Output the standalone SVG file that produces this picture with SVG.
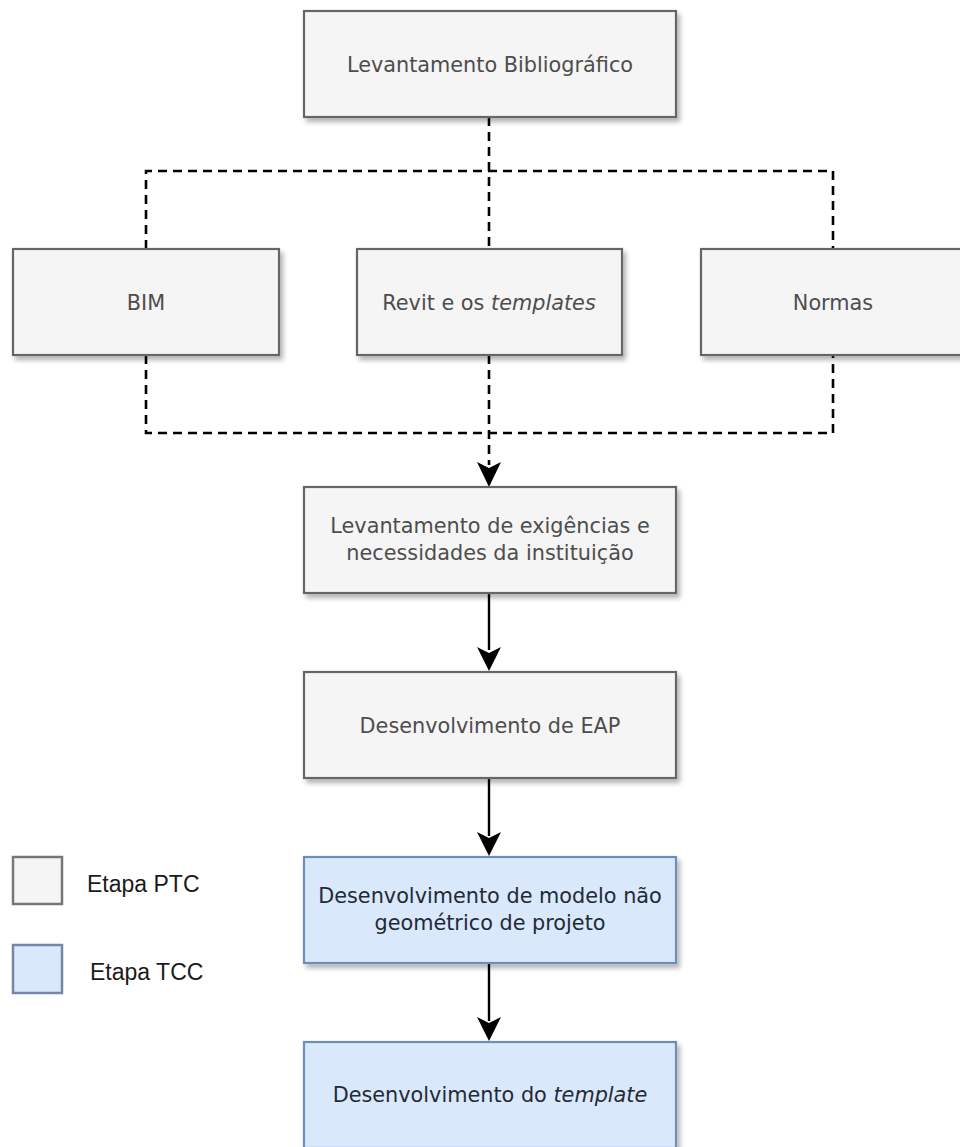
<svg xmlns="http://www.w3.org/2000/svg" width="960" height="1147" viewBox="0 0 960 1147">
<style>
.box{stroke-width:2.2}
.gray{fill:#f5f5f5;stroke:#666666}
.blue{fill:#dae8fc;stroke:#6c8ebf}
.t{font-family:"DejaVu Sans",Verdana,sans-serif;font-size:20.8px;text-anchor:middle}
.tg{fill:#4d4d4d}
.tb{fill:#222a35}
.dash{fill:none;stroke:#000;stroke-width:2.6;stroke-dasharray:9 6}
.solid{fill:none;stroke:#000;stroke-width:2.4}
.head{fill:#000}
.lg{font-family:"Liberation Sans",Arial,sans-serif;font-size:23px;fill:#1a1a1a}
</style>
<defs>
<filter id="sh" x="-10%" y="-10%" width="130%" height="140%">
<feGaussianBlur in="SourceAlpha" stdDeviation="2.5"/>
<feOffset dx="3" dy="4" result="o"/>
<feComponentTransfer><feFuncA type="linear" slope="0.3"/></feComponentTransfer>
<feMerge><feMergeNode/><feMergeNode in="SourceGraphic"/></feMerge>
</filter>
</defs>
<rect width="960" height="1147" fill="#ffffff"/>

<g id="connectors">
<path class="dash" d="M489,117 V249"/>
<path class="dash" d="M146,249 V171 H833 V249"/>
<path class="dash" d="M146,355 V433 H833 V355"/>
<path class="dash" d="M489,355 V465"/>
<path class="head" d="M489,487 L477,462 L489,468 L501,462 Z"/>
<path class="solid" d="M489,593 V650"/>
<path class="head" d="M489,671 L477,647 L489,653 L501,647 Z"/>
<path class="solid" d="M489,778 V836"/>
<path class="head" d="M489,856 L477,832 L489,838 L501,832 Z"/>
<path class="solid" d="M489,963 V1021"/>
<path class="head" d="M489,1041 L477,1017 L489,1023 L501,1017 Z"/>
</g>

<g id="n-levbib">
<rect class="box gray" x="304" y="11" width="372" height="106" filter="url(#sh)"/>
<text class="t tg" x="490" y="72">Levantamento Bibliográfico</text>
</g>
<g id="n-bim">
<rect class="box gray" x="13" y="249" width="266" height="106" filter="url(#sh)"/>
<text class="t tg" x="146" y="310">BIM</text>
</g>
<g id="n-revit">
<rect class="box gray" x="357" y="249" width="265" height="106" filter="url(#sh)"/>
<text class="t tg" x="489" y="310">Revit e os <tspan font-style="italic">templates</tspan></text>
</g>
<g id="n-normas">
<rect class="box gray" x="701" y="249" width="266" height="106" filter="url(#sh)"/>
<text class="t tg" x="833" y="310">Normas</text>
</g>
<g id="n-exig">
<rect class="box gray" x="304" y="487" width="372" height="106" filter="url(#sh)"/>
<text class="t tg" x="490" y="533">Levantamento de exigências e</text>
<text class="t tg" x="490" y="560">necessidades da instituição</text>
</g>
<g id="n-eap">
<rect class="box gray" x="304" y="672" width="372" height="106" filter="url(#sh)"/>
<text class="t tg" x="490" y="733">Desenvolvimento de EAP</text>
</g>
<g id="n-modelo">
<rect class="box blue" x="304" y="857" width="372" height="106" filter="url(#sh)"/>
<text class="t tb" x="490" y="903">Desenvolvimento de modelo não</text>
<text class="t tb" x="490" y="930">geométrico de projeto</text>
</g>
<g id="n-template">
<rect class="box blue" x="304" y="1042" width="372" height="106" filter="url(#sh)"/>
<text class="t tb" x="490" y="1102">Desenvolvimento do <tspan font-style="italic">template</tspan></text>
</g>

<g id="legend">
<rect x="13" y="857" width="49" height="47" fill="#f5f5f5" stroke="#777777" stroke-width="2.5"/>
<text class="lg" x="87" y="892">Etapa PTC</text>
<rect x="13" y="945" width="49" height="48" fill="#dae8fc" stroke="#7388a6" stroke-width="2.5"/>
<text class="lg" x="90" y="980">Etapa TCC</text>
</g>
</svg>
